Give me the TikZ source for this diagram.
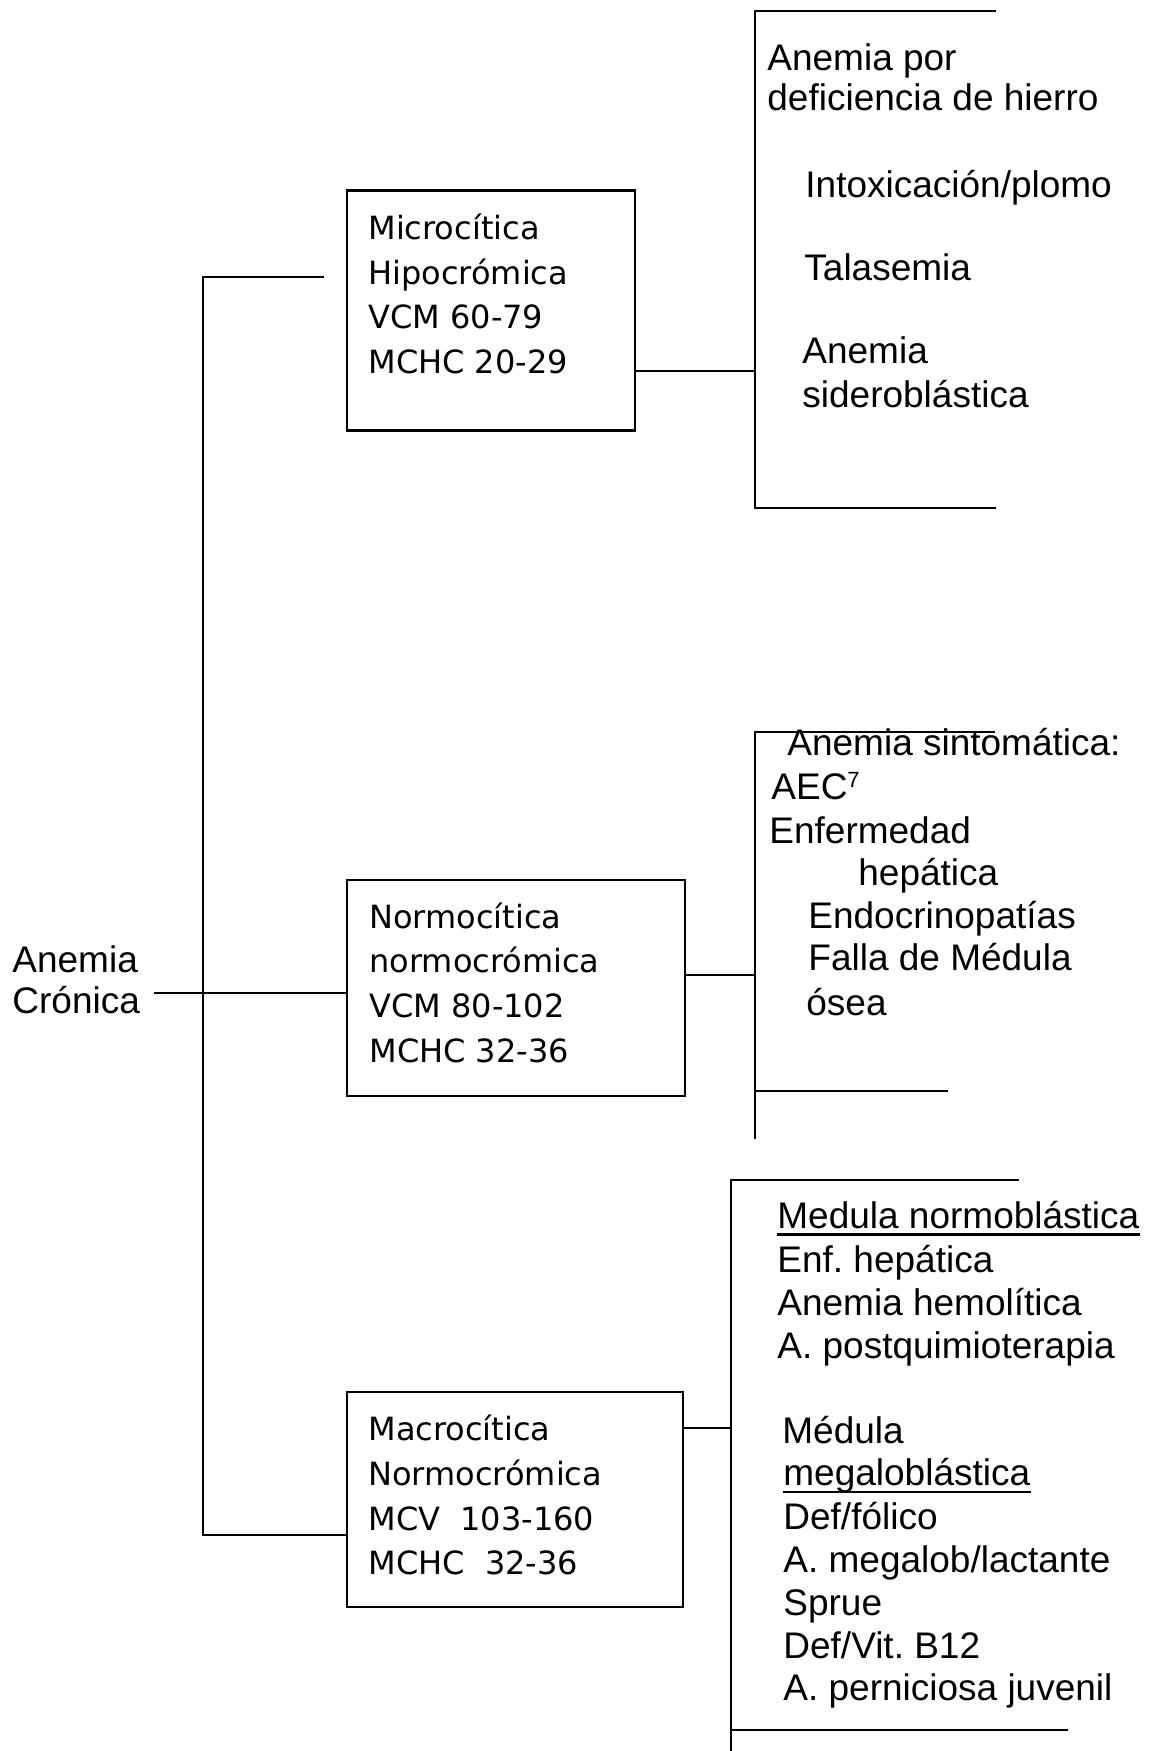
\documentclass[tikz,border=0pt]{standalone}
\usepackage{fontspec}
\setmainfont{Liberation Sans}
\newfontfamily\boxfont{DejaVu Sans}
\frenchspacing
\begin{document}
\begin{tikzpicture}[x=0.5pt,y=-0.5pt,
  rt/.style={font=\fontsize{18.5}{21}\selectfont, anchor=base west, inner sep=0pt},
  bt/.style={font=\boxfont\fontsize{16}{19}\selectfont, anchor=base west, inner sep=0pt},
  boxst/.style={draw, line width=1.2pt, inner sep=0pt, outer sep=0pt},
  ln/.style={line width=1pt},
  ul/.style={line width=1.2pt}]
\useasboundingbox[fill=white] (0,0) rectangle (1150,1751);

% root label
\node[rt] (r1) at (12,972) {Anemia};
\node[rt] (r2) at (12,1013) {Crónica};

% boxes
\node[boxst, minimum width=144pt, minimum height=120pt] (m1) at (491,310.5) {};
\node[boxst, minimum width=169pt, minimum height=108pt] (m2) at (516,988) {};
\node[boxst, minimum width=168pt, minimum height=107.5pt] (m3) at (515,1499.5) {};

\node[bt] (m1a) at (368,239) {Microcítica};
\node[bt] (m1b) at (368,284) {Hipocrómica};
\node[bt] (m1c) at (368,328) {VCM 60-79};
\node[bt] (m1d) at (368,373) {MCHC 20-29};

\node[bt] (m2a) at (369,928) {Normocítica};
\node[bt] (m2b) at (369,972) {normocrómica};
\node[bt] (m2c) at (369,1017) {VCM 80-102};
\node[bt] (m2d) at (369,1062) {MCHC 32-36};

\node[bt] (m3a) at (368,1440) {Macrocítica};
\node[bt] (m3b) at (368,1485) {Normocrómica};
\node[bt] (m3c) at (368,1530) {MCV\ \ 103-160};
\node[bt] (m3d) at (368,1574) {MCHC\ \ 32-36};

% trunk
\coordinate (rs) at (154,993);
\coordinate (tt) at (203,277);
\coordinate (tb) at (203,1535);
\coordinate (te) at (324,277);
\draw[ln] (rs) -- (rs -| m2.west);
\draw[ln] (te) -- (tt) -- (tb) -- (tb -| m3.west);

% bracket 1
\coordinate (k1t) at (755,11);
\coordinate (k1b) at (755,508);
\coordinate (k1j) at (755,371);
\draw[ln] (996,11) -- (k1t) -- (k1b) -- (996,508);
\draw[ln] (k1j -| m1.east) -- (k1j);

\node[rt] (a1) at (767,70) {Anemia por};
\node[rt] (a2) at (767,110) {deficiencia de hierro};
\node[rt] (a3) at (805,197) {Intoxicación/plomo};
\node[rt] (a4) at (804,280) {Talasemia};
\node[rt] (a5) at (802,363) {Anemia};
\node[rt] (a6) at (802,407) {sideroblástica};

% bracket 2
\coordinate (k2t) at (755,732);
\coordinate (k2m) at (755,1091);
\coordinate (k2b) at (755,1139);
\coordinate (k2j) at (755,975);
\draw[ln] (995,732) -- (k2t) -- (k2b);
\draw[ln] (k2m) -- (948,1091);
\draw[ln] (k2j -| m2.east) -- (k2j);

\node[rt] (s1) at (787,755) {Anemia sintomática:};
\node[rt] (s2) at (771,799) {AEC\raisebox{6pt}{\fontsize{11}{11}\selectfont 7}};
\node[rt] (s3) at (769,843) {Enfermedad};
\node[rt] (s4) at (858,885) {hepática};
\node[rt] (s5) at (808,928) {Endocrinopatías};
\node[rt] (s6) at (808,970) {Falla de Médula};
\node[rt] (s7) at (806,1015) {ósea};

% bracket 3
\coordinate (k3t) at (731,1180);
\coordinate (k3m) at (731,1730);
\coordinate (k3b) at (731,1751);
\coordinate (k3j) at (731,1428);
\draw[ln] (1019,1180) -- (k3t) -- (k3b);
\draw[ln] (k3m) -- (1068,1730);
\draw[ln] (k3j -| m3.east) -- (k3j);

\node[rt] (c1) at (777,1228) {Medula normoblástica};
\node[rt] (c2) at (777,1272) {Enf. hepática};
\node[rt] (c3) at (777,1315) {Anemia hemolítica};
\node[rt] (c4) at (777,1358) {A. postquimioterapia};
\node[rt] (c5) at (782,1443) {Médula};
\node[rt] (c6) at (783,1485) {megaloblástica};
\node[rt] (c7) at (783,1529) {Def/fólico};
\node[rt] (c8) at (783,1572) {A. megalob/lactante};
\node[rt] (c9) at (783,1615) {Sprue};
\node[rt] (c10) at (783,1658) {Def/Vit. B12};
\node[rt] (c11) at (783,1700) {A. perniciosa juvenil};
\draw[ul] ([yshift=-3.2pt]c1.base west) -- ([yshift=-3.2pt]c1.base east);
\draw[ul] ([yshift=-3.5pt]c6.base west) -- ([yshift=-3.5pt]c6.base east);
\end{tikzpicture}
\end{document}
